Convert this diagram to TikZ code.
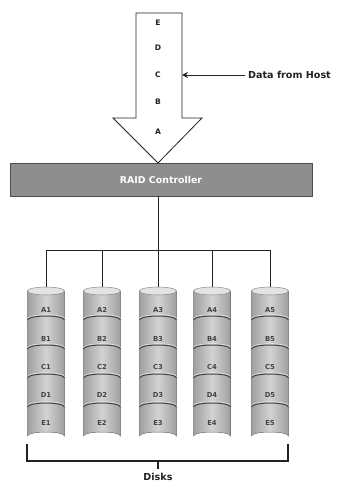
\documentclass[tikz,border=0pt]{standalone}
\usepackage{fontspec}
\setmainfont{DejaVu Sans}
\usetikzlibrary{arrows.meta}
\definecolor{ink}{HTML}{222222}
\definecolor{ctrlgray}{HTML}{8E8E8E}
\definecolor{diskedge}{HTML}{8A8A8A}
\begin{document}
\begin{tikzpicture}[x=1pt,y=-1pt,
  every node/.style={font=\bfseries, text=ink, inner sep=0pt},
  wire/.style={draw=ink, line width=0.9pt},
  seglabel/.style={font=\bfseries\fontsize{6.8}{7}\selectfont, text=ink!85},
  flowletter/.style={font=\bfseries\fontsize{7.6}{8}\selectfont},
]
\useasboundingbox (0,0) rectangle (341,483);

% incoming data stream arrow
\draw[line width=0.8pt, draw=ink, fill=white]
  (136,13) -- (182,13) -- (182,118) -- (202,118) -- (158,163)
  -- (113,118) -- (136,118) -- cycle;
\node[flowletter] (e) at (158,23) {E};
\node[flowletter] (d) at (158,48) {D};
\node[flowletter] (c) at (158,75) {C};
\node[flowletter] (b) at (158,102) {B};
\node[flowletter] (a) at (158,132) {A};

% host input
\coordinate (entry) at (182,75);
\node[anchor=west, font=\bfseries\fontsize{9.6}{11}\selectfont] (host) at (248,75) {Data from Host};
\draw[wire, -{Stealth[length=6pt,width=6pt]}] ([xshift=-3pt]host.west) -- (entry);

% controller
\node[draw=ink!80, line width=0.9pt, fill=ctrlgray, minimum width=302pt, minimum height=33pt,
      text=white, font=\bfseries\fontsize{9.4}{11}\selectfont] (ctrl) at (161,179.5) {RAID Controller};

% disks
\def\hw{18.5}
\foreach \i/\cx in {1/46,2/102,3/158,4/212,5/270}{
  \begin{scope}
    \fill[left color=gray!75, right color=gray!75, middle color=gray!35]
      (\cx-\hw,291) -- (\cx-\hw,436) arc[start angle=180, end angle=360, x radius=\hw, y radius=4]
      -- (\cx+\hw,291) -- cycle;
    \draw[diskedge, line width=0.5pt]
      (\cx-\hw,291) -- (\cx-\hw,436) arc[start angle=180, end angle=360, x radius=\hw, y radius=4]
      -- (\cx+\hw,291);
    \foreach \yy in {320,349,378,407}{
      \draw[gray!20, line width=0.6pt] (\cx-\hw,\yy-1.3) arc[start angle=180, end angle=360, x radius=\hw, y radius=4];
      \draw[ink!85, line width=1pt] (\cx-\hw,\yy) arc[start angle=180, end angle=360, x radius=\hw, y radius=4];
    }
    \fill[gray!22] (\cx,291) ellipse[x radius=\hw, y radius=4];
    \draw[diskedge, line width=0.5pt] (\cx,291) ellipse[x radius=\hw, y radius=4];
  \end{scope}
  \coordinate (top\i) at (\cx,287);
  \node[seglabel] (a\i) at (\cx,310) {A\i};
  \node[seglabel] (b\i) at (\cx,339) {B\i};
  \node[seglabel] (c\i) at (\cx,367) {C\i};
  \node[seglabel] (d\i) at (\cx,395) {D\i};
  \node[seglabel] (e\i) at (\cx,423) {E\i};
}

% bus from controller to disks
\coordinate (bus) at (158,250);
\draw[wire] (bus |- ctrl.south) -- (bus);
\draw[wire] (top1) -- (top1 |- bus) -- (top5 |- bus) -- (top5);
\foreach \i in {2,3,4}{ \draw[wire] (top\i) -- (top\i |- bus); }

% bracket grouping the disks
\coordinate (bl) at (27,444);
\coordinate (br) at (288,444);
\coordinate (bmid) at (158,461);
\node[font=\bfseries\fontsize{9.6}{11}\selectfont] (disks) at (158,477) {Disks};
\draw[line width=1.6pt, draw=ink] (bl) -- (bl |- bmid) -- (br |- bmid) -- (br);
\draw[line width=1.6pt, draw=ink] (bmid) -- ++(0,8);
\end{tikzpicture}
\end{document}
